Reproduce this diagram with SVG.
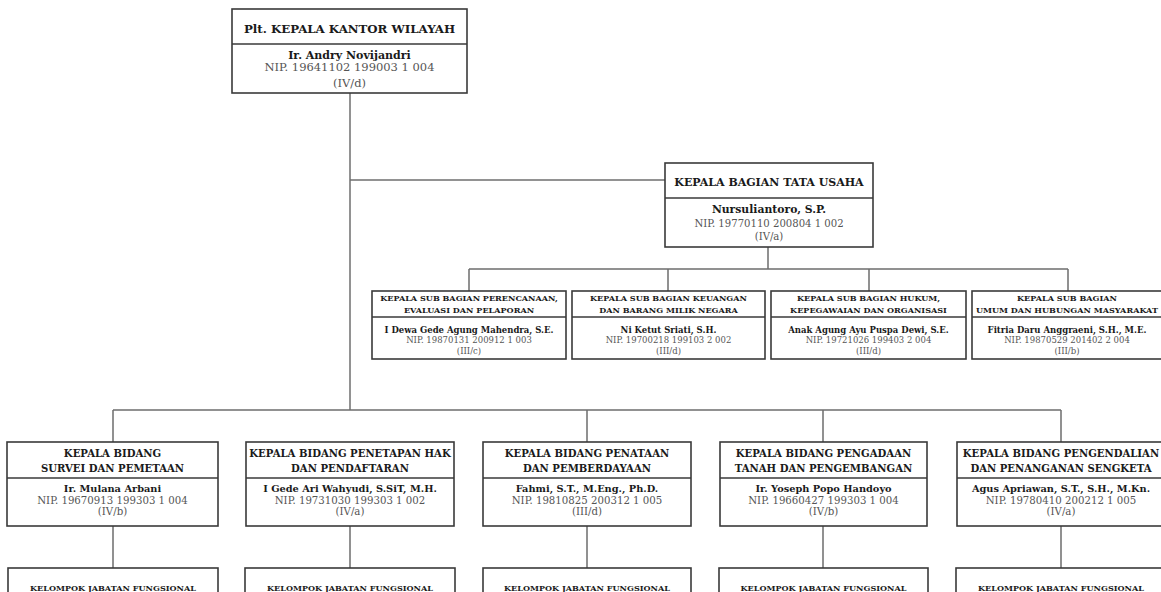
<svg xmlns="http://www.w3.org/2000/svg" width="1161" height="592" viewBox="0 0 1161 592">
<style>
.box{fill:#fff;stroke:#3a3a3a;stroke-width:1.6}
.div{stroke:#3a3a3a;stroke-width:1.4}
.con{fill:none;stroke:#6e6e6e;stroke-width:1.5}
text{font-family:"DejaVu Serif","Liberation Serif",serif;text-anchor:middle}
.t{font-weight:bold;fill:#1a1a1a}
.n{font-weight:bold;fill:#1a1a1a}
.g{fill:#555}
.t1{font-size:11.8px}.n1{font-size:11px}.g1{font-size:11.5px}
.t2{font-size:11px}.n2{font-size:10.8px}.g2{font-size:10.1px}
.t3{font-size:8.1px}.n3{font-size:8.5px}.g3{font-size:8.5px}
.t4{font-size:10.1px}.n4{font-size:9.8px}.g4{font-size:10.2px}
.t5{font-size:8.1px}
</style>
<rect width="1161" height="592" fill="#fff"/>
<g id="connectors">
<path class="con" d="M350 93V410"/>
<path class="con" d="M350 180H665"/>
<path class="con" d="M768 247V269M469 269H1068M469 269V291M668 269V291M869 269V291M1068 269V291"/>
<path class="con" d="M113 410H1061M113 410V442M587 410V442M823 410V442M1061 410V442"/>
<path class="con" d="M113 526V568M350 526V568M587 526V568M823 526V568M1061 526V568"/>
</g>
<g id="kakanwil">
<rect class="box" x="232" y="9" width="235" height="84"/>
<line class="div" x1="232" y1="44" x2="467" y2="44"/>
<text class="t t1" x="349.5" y="32.5">Plt. KEPALA KANTOR WILAYAH</text>
<text class="n n1" x="349.5" y="58.5">Ir. Andry Novijandri</text>
<text class="g g1" x="349.5" y="70.5">NIP. 19641102 199003 1 004</text>
<text class="g g1" x="349.5" y="87">(IV/d)</text>
</g>
<g id="kabag-tu">
<rect class="box" x="665" y="163" width="208" height="84"/>
<line class="div" x1="665" y1="198" x2="873" y2="198"/>
<text class="t t2" x="769" y="185.5">KEPALA BAGIAN TATA USAHA</text>
<text class="n n2" x="769" y="213">Nursuliantoro, S.P.</text>
<text class="g g2" x="769" y="227">NIP. 19770110 200804 1 002</text>
<text class="g g2" x="769" y="240">(IV/a)</text>
</g>
<g id="subbag-1">
<rect class="box" x="372" y="291" width="194" height="68"/>
<line class="div" x1="372" y1="317" x2="566" y2="317"/>
<text class="t t3" x="469" y="301">KEPALA SUB BAGIAN PERENCANAAN,</text>
<text class="t t3" x="469" y="313">EVALUASI DAN PELAPORAN</text>
<text class="n n3" x="469" y="332.5">I Dewa Gede Agung Mahendra, S.E.</text>
<text class="g g3" x="469" y="343">NIP. 19870131 200912 1 003</text>
<text class="g g3" x="469" y="354">(III/c)</text>
</g>
<g id="subbag-2">
<rect class="box" x="572" y="291" width="193" height="68"/>
<line class="div" x1="572" y1="317" x2="765" y2="317"/>
<text class="t t3" x="668.5" y="301">KEPALA SUB BAGIAN KEUANGAN</text>
<text class="t t3" x="668.5" y="313">DAN BARANG MILIK NEGARA</text>
<text class="n n3" x="668.5" y="332.5">Ni Ketut Sriati, S.H.</text>
<text class="g g3" x="668.5" y="343">NIP. 19700218 199103 2 002</text>
<text class="g g3" x="668.5" y="354">(III/d)</text>
</g>
<g id="subbag-3">
<rect class="box" x="771" y="291" width="195" height="68"/>
<line class="div" x1="771" y1="317" x2="966" y2="317"/>
<text class="t t3" x="868.5" y="301">KEPALA SUB BAGIAN HUKUM,</text>
<text class="t t3" x="868.5" y="313">KEPEGAWAIAN DAN ORGANISASI</text>
<text class="n n3" x="868.5" y="332.5">Anak Agung Ayu Puspa Dewi, S.E.</text>
<text class="g g3" x="868.5" y="343">NIP. 19721026 199403 2 004</text>
<text class="g g3" x="868.5" y="354">(III/d)</text>
</g>
<g id="subbag-4">
<rect class="box" x="972" y="291" width="192" height="68"/>
<line class="div" x1="972" y1="317" x2="1164" y2="317"/>
<text class="t t3" x="1067" y="301">KEPALA SUB BAGIAN</text>
<text class="t t3" x="1067" y="313">UMUM DAN HUBUNGAN MASYARAKAT</text>
<text class="n n3" x="1067" y="332.5">Fitria Daru Anggraeni, S.H., M.E.</text>
<text class="g g3" x="1067" y="343">NIP. 19870529 201402 2 004</text>
<text class="g g3" x="1067" y="354">(III/b)</text>
</g>
<g id="bidang-1">
<rect class="box" x="7" y="442" width="211" height="84"/>
<line class="div" x1="7" y1="478" x2="218" y2="478"/>
<text class="t t4" x="112.5" y="457">KEPALA BIDANG</text>
<text class="t t4" x="112.5" y="472">SURVEI DAN PEMETAAN</text>
<text class="n n4" x="112.5" y="492">Ir. Mulana Arbani</text>
<text class="g g4" x="112.5" y="504">NIP. 19670913 199303 1 004</text>
<text class="g g4" x="112.5" y="515">(IV/b)</text>
</g>
<g id="bidang-2">
<rect class="box" x="246" y="442" width="208" height="84"/>
<line class="div" x1="246" y1="478" x2="454" y2="478"/>
<text class="t t4" x="350" y="457">KEPALA BIDANG PENETAPAN HAK</text>
<text class="t t4" x="350" y="472">DAN PENDAFTARAN</text>
<text class="n n4" x="350" y="492">I Gede Ari Wahyudi, S.SiT, M.H.</text>
<text class="g g4" x="350" y="504">NIP. 19731030 199303 1 002</text>
<text class="g g4" x="350" y="515">(IV/a)</text>
</g>
<g id="bidang-3">
<rect class="box" x="483" y="442" width="208" height="84"/>
<line class="div" x1="483" y1="478" x2="691" y2="478"/>
<text class="t t4" x="587" y="457">KEPALA BIDANG PENATAAN</text>
<text class="t t4" x="587" y="472">DAN PEMBERDAYAAN</text>
<text class="n n4" x="587" y="492">Fahmi, S.T., M.Eng., Ph.D.</text>
<text class="g g4" x="587" y="504">NIP. 19810825 200312 1 005</text>
<text class="g g4" x="587" y="515">(III/d)</text>
</g>
<g id="bidang-4">
<rect class="box" x="720" y="442" width="207" height="84"/>
<line class="div" x1="720" y1="478" x2="927" y2="478"/>
<text class="t t4" x="823.5" y="457">KEPALA BIDANG PENGADAAN</text>
<text class="t t4" x="823.5" y="472">TANAH DAN PENGEMBANGAN</text>
<text class="n n4" x="823.5" y="492">Ir. Yoseph Popo Handoyo</text>
<text class="g g4" x="823.5" y="504">NIP. 19660427 199303 1 004</text>
<text class="g g4" x="823.5" y="515">(IV/b)</text>
</g>
<g id="bidang-5">
<rect class="box" x="957" y="442" width="208" height="84"/>
<line class="div" x1="957" y1="478" x2="1165" y2="478"/>
<text class="t t4" x="1061" y="457">KEPALA BIDANG PENGENDALIAN</text>
<text class="t t4" x="1061" y="472">DAN PENANGANAN SENGKETA</text>
<text class="n n4" x="1061" y="492">Agus Apriawan, S.T., S.H., M.Kn.</text>
<text class="g g4" x="1061" y="504">NIP. 19780410 200212 1 005</text>
<text class="g g4" x="1061" y="515">(IV/a)</text>
</g>
<g id="jf-1">
<rect class="box" x="8" y="568" width="210" height="40"/>
<text class="t t5" x="113" y="591">KELOMPOK JABATAN FUNGSIONAL</text>
</g>
<g id="jf-2">
<rect class="box" x="245" y="568" width="210" height="40"/>
<text class="t t5" x="350" y="591">KELOMPOK JABATAN FUNGSIONAL</text>
</g>
<g id="jf-3">
<rect class="box" x="483" y="568" width="208" height="40"/>
<text class="t t5" x="587" y="591">KELOMPOK JABATAN FUNGSIONAL</text>
</g>
<g id="jf-4">
<rect class="box" x="719" y="568" width="209" height="40"/>
<text class="t t5" x="823.5" y="591">KELOMPOK JABATAN FUNGSIONAL</text>
</g>
<g id="jf-5">
<rect class="box" x="956" y="568" width="209" height="40"/>
<text class="t t5" x="1061" y="591">KELOMPOK JABATAN FUNGSIONAL</text>
</g>
</svg>
